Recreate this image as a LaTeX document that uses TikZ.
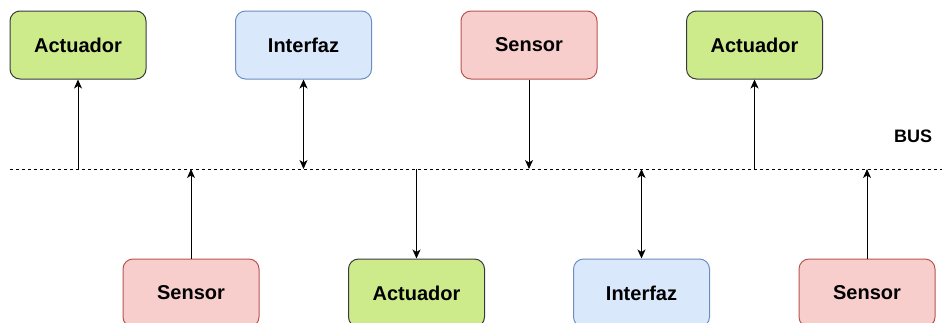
\documentclass[tikz,border=0pt]{standalone}
\usepackage{xcolor}
\usepackage{fontspec}
\setmainfont{Liberation Sans}
\usetikzlibrary{arrows.meta,positioning}
\definecolor{actfill} {HTML}{CDEB8B}
\definecolor{actline} {HTML}{36393D}
\definecolor{ifcfill} {HTML}{DAE8FC}
\definecolor{ifcline} {HTML}{6C8EBF}
\definecolor{senfill} {HTML}{F8CECC}
\definecolor{senline} {HTML}{B85450}
\newcommand{\boxfont}{\fontsize{20}{24}\selectfont\bfseries}
\tikzset{
  unit/.style={line width=1pt, rounded corners=10pt,
               minimum width=136pt, minimum height=68pt, font=\boxfont},
  act/.style={unit, draw=actline, fill=actfill},
  ifc/.style={unit, draw=ifcline, fill=ifcfill},
  sen/.style={unit, draw=senline, fill=senfill},
  link/.style={line width=1pt, >={Stealth[length=9pt,width=8pt,inset=2.5pt]}},
  sends/.style={link, ->},
  receives/.style={link, <-},
  shares/.style={link, <->},
}

\begin{document}
\begin{tikzpicture}[x=1pt, y=-1pt]
  \useasboundingbox (0,0) rectangle (942,322);
  % the shared bus
  \coordinate (busL) at (10,169);
  \coordinate (busR) at (942,169);
  \draw[line width=1pt, dash pattern=on 3pt off 3pt] (busL) -- (busR);
  \node[font=\fontsize{18}{22}\selectfont\bfseries] (busname) at (913,136) {BUS};
  % units above the bus
  \foreach \n/\x/\kind/\lab/\dir in {
     t1/78/act/Actuador/receives,
     t2/303.5/ifc/Interfaz/shares,
     t3/529/sen/Sensor/sends,
     t4/754.5/act/Actuador/receives} {
    \node[\kind] (\n) at (\x,45) {\lab};
    \coordinate (\n bus) at (\x,169);
    \draw[\dir] (\n) -- (\n bus);
  }
  % units below the bus
  \foreach \n/\x/\kind/\lab/\dir in {
     b1/191/sen/Sensor/sends,
     b2/416.5/act/Actuador/receives,
     b3/641.5/ifc/Interfaz/shares,
     b4/867/sen/Sensor/sends} {
    \node[\kind] (\n) at (\x,293) {\lab};
    \coordinate (\n bus) at (\x,169);
    \draw[\dir] (\n) -- (\n bus);
  }
\end{tikzpicture}
\end{document}
